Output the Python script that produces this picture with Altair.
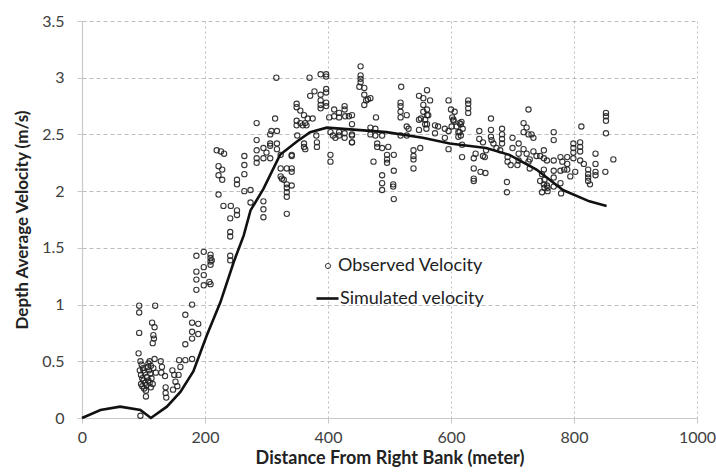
import altair as alt
import pandas as pd

# Observed depth-averaged velocity across the section (distance in m, velocity in m/s)
obs_distance = [
    # shallow right-bank zone
    92, 95, 97, 99, 100, 102, 96, 98, 100, 103, 105, 98, 101, 104, 107, 108, 110, 112,
    109, 111, 106, 108, 110, 113, 115, 112, 104, 96, 94, 118, 116, 120, 95,
    93, 93, 119, 93, 114, 118, 116, 117, 115,
    128, 130, 129, 135, 136, 136, 137, 147, 150, 152, 155, 148, 158, 160, 157, 168, 179,
    168, 168, 179, 179, 189, 179, 189, 179,
    # rising limb
    186, 198, 209, 209, 209, 209, 198, 186, 198, 186, 198, 209, 186, 211, 207,
    241, 241, 241, 241, 241, 230, 242, 252, 252, 222, 219, 226, 231, 222, 228, 222, 228,
    252, 252, 264, 264, 264, 264, 274, 274, 284, 284, 284, 284, 295, 295, 306, 306, 306,
    317, 295, 295, 295, 323, 323, 333, 323, 328, 333, 333, 333, 333, 333, 306, 308, 317,
    350, 341,
    # main channel
    316, 370, 388, 397, 397, 378, 371, 388, 397, 397, 388, 388, 388, 349, 349, 355, 361,
    367, 375, 397, 397, 410, 418, 427, 427, 428, 418, 410, 402, 434, 284, 314, 349, 349,
    355, 363, 365, 359, 404, 408, 418, 412, 427, 418, 427, 439, 439, 404, 404, 381, 382,
    382, 361, 361, 363, 341, 341, 341, 325, 341, 300, 317,
    453, 453, 453, 453, 451, 459, 459, 469, 462, 459, 465, 439, 439, 439, 439, 478, 469,
    469, 477, 477, 488, 480, 480, 488, 498, 474, 496, 496, 496, 507, 507, 488, 488, 488,
    506, 506, 507, 519, 518, 518, 518, 518, 528, 528, 531, 518, 528, 539, 539, 539, 550,
    539, 548, 555, 555, 555, 561, 561, 566, 561, 563, 558, 551, 548, 548, 558, 561, 560,
    574, 579, 574, 590, 596, 590, 596, 600, 596, 601, 604, 612, 612, 614, 617,
    # left-bank side
    628, 628, 628, 628, 606, 602, 604, 609, 616, 614, 619, 616, 618, 618, 637, 640, 637,
    637, 637, 648, 656, 646, 646, 652, 657, 652, 655, 665, 665, 665, 666, 669, 674, 680,
    683, 683, 683, 683, 692, 692, 697, 691, 691, 700, 700, 710, 710, 710, 708, 718, 718,
    723, 726, 731, 734, 726, 718, 723, 728, 734, 739, 726, 728, 745, 748, 745, 751, 757,
    748, 757,
    751, 751, 756, 751, 752, 756, 752, 767, 767, 767, 767, 767, 767, 778, 778, 781, 784,
    778, 789, 789, 789, 794, 779, 799, 799, 799, 799, 810, 810, 810, 802, 810, 816, 812,
    823, 823, 823, 823, 826, 835, 835, 835, 835, 851, 852, 852, 852, 852, 864,
]
obs_velocity = [
    0.57, 0.50, 0.47, 0.44, 0.42, 0.40, 0.38, 0.35, 0.33, 0.31, 0.29, 0.28, 0.26, 0.24, 0.45, 0.48, 0.50, 0.46,
    0.42, 0.39, 0.36, 0.33, 0.31, 0.35, 0.30, 0.27, 0.19, 0.30, 0.42, 0.52, 0.44, 0.40, 0.02,
    0.99, 0.93, 0.99, 0.75, 0.84, 0.80, 0.73, 0.70, 0.66,
    0.50, 0.45, 0.40, 0.37, 0.27, 0.22, 0.18, 0.42, 0.38, 0.32, 0.28, 0.25, 0.51, 0.45, 0.38, 0.51, 0.52,
    0.65, 0.91, 1.00, 0.84, 0.83, 0.76, 0.74, 0.70,
    1.43, 1.465, 1.44, 1.41, 1.38, 1.35, 1.33, 1.29, 1.26, 1.22, 1.17, 1.18, 1.13, 1.39, 1.20,
    1.43, 1.39, 1.64, 1.60, 1.76, 1.87, 1.87, 1.83, 1.79, 1.97, 2.36, 2.35, 2.33, 2.22, 2.19, 2.14, 2.10,
    2.10, 2.06, 2.31, 2.23, 2.15, 2.00, 2.01, 1.90, 2.45, 2.36, 2.29, 2.25, 2.38, 2.29, 2.29, 2.40, 2.42,
    2.42, 1.91, 1.84, 1.77, 2.32, 2.20, 2.20, 2.13, 2.10, 2.06, 2.03, 1.99, 1.95, 1.80, 2.50, 2.53, 2.53,
    2.49, 2.32,
    3.00, 3.00, 3.03, 3.03, 3.01, 2.88, 2.84, 2.85, 2.90, 2.87, 2.80, 2.76, 2.73, 2.77, 2.74, 2.71, 2.67,
    2.64, 2.64, 2.78, 2.75, 2.72, 2.69, 2.75, 2.72, 2.66, 2.65, 2.66, 2.65, 2.66, 2.60, 2.64, 2.62, 2.58,
    2.60, 2.60, 2.58, 2.58, 2.52, 2.49, 2.49, 2.47, 2.47, 2.52, 2.51, 2.50, 2.43, 2.32, 2.26, 2.49, 2.43,
    2.39, 2.42, 2.39, 2.37, 2.31, 2.20, 2.17, 2.11, 2.05, 2.34, 2.37,
    3.10, 3.02, 2.99, 2.96, 2.92, 2.91, 2.85, 2.82, 2.80, 2.76, 2.81, 2.67, 2.59, 2.49, 2.43, 2.65, 2.56,
    2.50, 2.55, 2.49, 2.49, 2.42, 2.39, 2.38, 2.39, 2.26, 2.32, 2.28, 2.25, 2.32, 2.18, 2.14, 2.07, 2.01,
    2.06, 2.04, 1.93, 2.92, 2.78, 2.75, 2.70, 2.65, 2.67, 2.57, 2.55, 2.49, 2.49, 2.36, 2.31, 2.28, 2.38,
    2.20, 2.84, 2.82, 2.76, 2.70, 2.72, 2.89, 2.80, 2.67, 2.67, 2.63, 2.64, 2.63, 2.54, 2.59, 2.59, 2.55,
    2.58, 2.57, 2.51, 2.55, 2.53, 2.47, 2.37, 2.72, 2.80, 2.57, 2.62, 2.52, 2.48, 2.60, 2.61,
    2.80, 2.77, 2.73, 2.69, 2.70, 2.65, 2.63, 2.57, 2.59, 2.52, 2.55, 2.49, 2.41, 2.30, 2.29, 2.33, 2.20,
    2.11, 2.09, 2.17, 2.16, 2.53, 2.46, 2.43, 2.36, 2.31, 2.30, 2.64, 2.54, 2.48, 2.45, 2.42, 2.38, 2.36,
    2.55, 2.50, 2.46, 2.42, 2.30, 2.26, 2.23, 2.08, 1.99, 2.47, 2.38, 2.42, 2.33, 2.27, 2.23, 2.60, 2.52,
    2.56, 2.50, 2.50, 2.47, 2.72, 2.37, 2.33, 2.28, 2.35, 2.31, 2.26, 2.20, 2.31, 2.15, 2.09, 2.06, 2.03,
    1.99, 2.00,
    2.36, 2.29, 2.27, 2.19, 2.10, 2.05, 2.03, 2.52, 2.45, 2.27, 2.18, 2.12, 2.04, 2.07, 2.30, 2.26, 2.19,
    2.18, 2.30, 2.24, 2.19, 2.13, 1.98, 2.42, 2.38, 2.34, 2.29, 2.43, 2.39, 2.35, 2.17, 2.27, 2.24, 2.57,
    2.19, 2.15, 2.12, 2.09, 2.06, 2.33, 2.24, 2.17, 2.14, 2.17, 2.69, 2.66, 2.62, 2.51, 2.28,
]

# Simulated velocity profile
sim_distance = [0, 30, 62, 95, 112, 138, 160, 181, 203, 225, 247, 263, 274, 295, 322,
                350, 371, 398, 447, 495, 554, 598, 657, 695, 739, 782, 825, 853]
sim_velocity = [0.0, 0.07, 0.10, 0.07, 0.0, 0.10, 0.23, 0.41, 0.73, 1.02, 1.38, 1.61, 1.83,
                2.02, 2.32, 2.44, 2.52, 2.56, 2.54, 2.52, 2.47, 2.42, 2.38, 2.32, 2.19,
                2.01, 1.91, 1.87]

obs = pd.DataFrame({"distance": obs_distance, "velocity": obs_velocity})
obs["series"] = "Observed Velocity"
sim = pd.DataFrame({"distance": sim_distance, "velocity": sim_velocity})
sim["series"] = "Simulated velocity"

FONT = "Lato"

x_scale = alt.Scale(domain=[0, 1000], nice=False, zero=False)
y_scale = alt.Scale(domain=[0, 3.5], nice=False)

x_axis = alt.Axis(
    title="Distance From Right Bank (meter)",
    values=[0, 200, 400, 600, 800, 1000],
    format="d", labelFlush=False,
    grid=True, gridColor="#bdbdbd", gridDash=[2, 3], gridWidth=1,
    domainColor="#c8c8c8", domainWidth=1.2,
    tickColor="#c8c8c8", tickSize=5,
    labelFont=FONT, labelFontSize=16, labelColor="#404040", labelPadding=6,
    titleFont=FONT, titleFontSize=18, titleFontWeight="bold", titleColor="#222222",
    titlePadding=4,
)
y_axis = alt.Axis(
    title="Depth Average Velocity (m/s)",
    values=[0, 0.5, 1, 1.5, 2, 2.5, 3, 3.5],
    format="~g", labelFlush=False,
    grid=True, gridColor="#bdbdbd", gridDash=[4, 3], gridWidth=1,
    domainColor="#c8c8c8", domainWidth=1.2,
    tickColor="#c8c8c8", tickSize=5,
    labelFont=FONT, labelFontSize=16, labelColor="#404040", labelPadding=13,
    titleFont=FONT, titleFontSize=17, titleFontWeight="bold", titleColor="#222222",
    titlePadding=10,
)

points = alt.Chart(obs).mark_point(
    filled=False, size=28, strokeWidth=1.1, color="#222222", opacity=0.9
).encode(
    x=alt.X("distance:Q", scale=x_scale, axis=x_axis),
    y=alt.Y("velocity:Q", scale=y_scale, axis=y_axis),
    shape=alt.Shape(
        "series:N",
        scale=alt.Scale(range=["circle"]),
        legend=alt.Legend(
            title=None, orient="none", legendX=237, legendY=236, padding=0,
            symbolSize=26, symbolStrokeColor="#222222", symbolStrokeWidth=1,
            symbolFillColor="transparent", labelOffset=1,
            labelFont=FONT, labelFontSize=18, labelColor="#222222",
        ),
    ),
)

line = alt.Chart(sim).mark_line(strokeWidth=2.6).encode(
    x=alt.X("distance:Q", scale=x_scale),
    y=alt.Y("velocity:Q", scale=y_scale),
    color=alt.Color(
        "series:N",
        scale=alt.Scale(range=["#111111"]),
        legend=alt.Legend(
            title=None, orient="none", legendX=233, legendY=265, padding=0,
            symbolType="stroke", symbolSize=484, symbolStrokeWidth=2.6,
            labelOffset=0,
            labelFont=FONT, labelFontSize=18, labelColor="#222222",
        ),
    ),
)

chart = alt.layer(points, line).resolve_legend(
    shape="independent", color="independent"
).properties(
    width=615,
    height=397,
    autosize=alt.AutoSizeParams(type="none"),
    padding={"left": 82, "top": 21, "right": 19, "bottom": 57},
    background="white",
).configure_view(stroke=None)

chart.save("out.html", embed_options={"renderer": "svg", "actions": False})
